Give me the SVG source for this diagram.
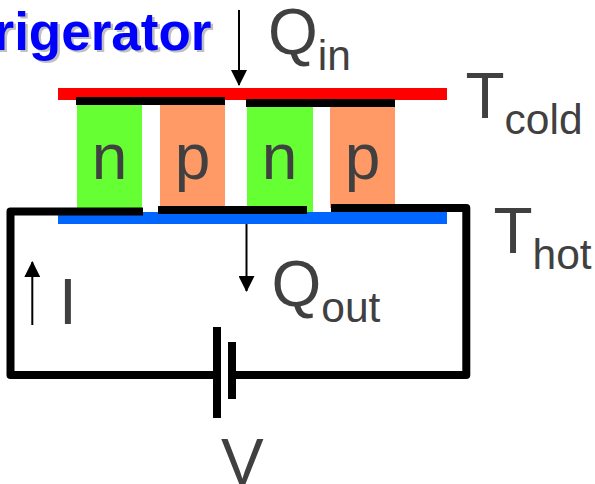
<svg xmlns="http://www.w3.org/2000/svg" width="595" height="484" viewBox="0 0 595 484">
<defs>
<marker id="ah" markerUnits="userSpaceOnUse" markerWidth="16" markerHeight="16" refX="15" refY="8" orient="auto"><path d="M0 0L16 8L0 16Z" fill="#000"/></marker>
</defs>
<style>
.t{font-family:"Liberation Sans",Arial,sans-serif;fill:#404040;font-size:64px}
.s{font-size:42.500px}
.w{fill:none;stroke:#000;stroke-width:8;stroke-linejoin:round}
.b{fill:#000}
.a{fill:none;stroke:#000;stroke-width:2;marker-end:url(#ah)}
.ti{font-family:"Liberation Sans",Arial,sans-serif;font-weight:bold;font-size:53px}
</style>
<rect width="595" height="484" fill="#fff"/>
<g id="title"><text class="ti" x="-4" y="51.500" fill="#c0c0c0">rigerator</text><text class="ti" x="-6.500" y="49.500" fill="#0000ff">rigerator</text></g>
<g id="plate-cold"><rect x="58" y="88" width="389" height="12" fill="#ff0000"/></g>
<g id="plate-hot"><rect x="58" y="212" width="389" height="12" fill="#0066ff"/></g>
<g id="leg-n1"><rect x="77" y="104" width="65" height="104" fill="#66ff33"/><text class="t" x="109.500" y="179" text-anchor="middle">n</text></g>
<g id="leg-p1"><rect x="160" y="104" width="65" height="104" fill="#ff9966"/><text class="t" x="192.500" y="179" text-anchor="middle">p</text></g>
<g id="leg-n2"><rect x="247" y="104" width="66" height="108" fill="#66ff33"/><text class="t" x="279.500" y="179" text-anchor="middle">n</text></g>
<g id="leg-p2"><rect x="330" y="104" width="65" height="104" fill="#ff9966"/><text class="t" x="362.500" y="179" text-anchor="middle">p</text></g>
<g id="connectors">
<rect class="b" x="76" y="97" width="149" height="8"/>
<rect class="b" x="246" y="99" width="149" height="8"/>
<rect class="b" x="158" y="206" width="149" height="8"/>
<path class="w" d="M143 211.500H10.500V375H217"/>
<path class="w" d="M331 208H466.300V375H232"/>
<rect class="b" x="213" y="327" width="8" height="91"/>
<rect class="b" x="228" y="342" width="8" height="57"/>
<path class="a" d="M239 10V85"/>
<path class="a" d="M246.500 224V291"/>
<path class="a" d="M32.300 325V262"/>
</g>
<g id="labels">
<text class="t" x="268" y="54">Q<tspan class="s" dy="16">in</tspan></text>
<text class="t" x="465.500" y="118">T<tspan class="s" dy="16">cold</tspan></text>
<text class="t" x="493.500" y="253">T<tspan class="s" dy="16">hot</tspan></text>
<text class="t" x="271.500" y="306">Q<tspan class="s" dy="16">out</tspan></text>
<text class="t" x="59" y="324">I</text>
<text class="t" x="221" y="484">V</text>
</g>
</svg>
